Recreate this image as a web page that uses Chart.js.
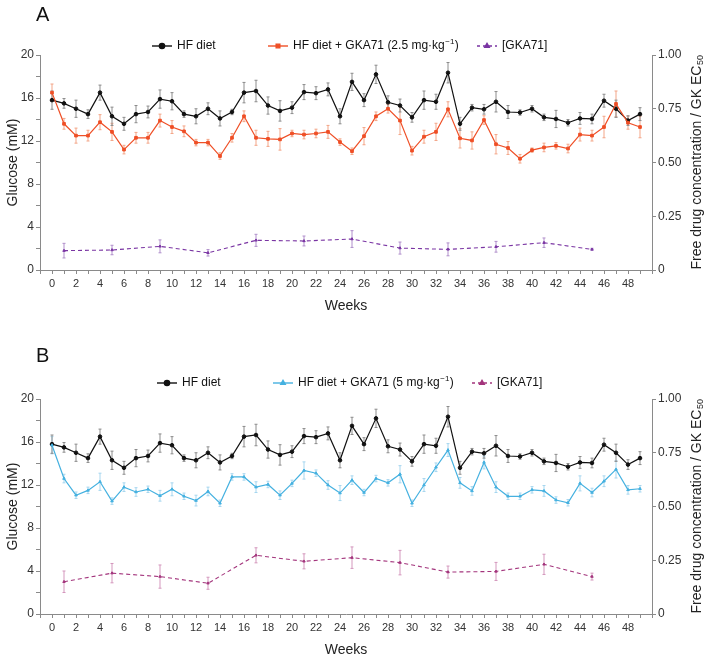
<!DOCTYPE html>
<html>
<head>
<meta charset="utf-8">
<script src="https://cdn.jsdelivr.net/npm/chart.js@4.4.1/dist/chart.umd.min.js"></script>
<style>
body { margin: 0; background: #fff; width: 709px; height: 658px; overflow: hidden; position: relative; }
canvas { position: absolute; left: 0; }
</style>
</head>
<body>
<canvas id="chartA" width="709" height="329" style="top:0"></canvas>
<canvas id="chartB" width="709" height="329" style="top:329px"></canvas>
<script>
// Weeks of the study
const weeks = [0, 1, 2, 3, 4, 5, 6, 7, 8, 9, 10, 11, 12, 13, 14, 15, 16, 17, 18, 19,
  20, 21, 22, 23, 24, 25, 26, 27, 28, 29, 30, 31, 32, 33, 34, 35, 36, 37, 38, 39,
  40, 41, 42, 43, 44, 45, 46, 47, 48, 49];
const drugWeeks = [1, 5, 9, 13, 17, 21, 25, 29, 33, 37, 41, 45];

// Glucose (mM), HF diet controls (same in both panels)
const hfDiet = [15.8, 15.5, 15.0, 14.5, 16.5, 14.3, 13.6, 14.5, 14.7, 15.9,
  15.7, 14.5, 14.3, 15.0, 14.1, 14.7, 16.5, 16.65, 15.3, 14.8,
  15.1, 16.55, 16.45, 16.8, 14.3, 17.5, 15.8, 18.2, 15.6, 15.3,
  14.2, 15.8, 15.65, 18.35, 13.6, 15.1, 14.95, 15.65, 14.7, 14.65,
  15.0, 14.2, 14.05, 13.7, 14.1, 14.05, 15.75, 15.0, 13.9, 14.5];
const hfDietErr = [0.85, 0.45, 0.8, 0.4, 0.7, 0.85, 0.6, 0.8, 0.55, 0.85,
  0.8, 0.3, 0.7, 0.55, 0.7, 0.25, 0.95, 1.0, 0.8, 0.95,
  0.55, 0.7, 0.6, 0.6, 0.7, 0.8, 0.6, 0.85, 0.6, 0.6,
  0.45, 0.85, 0.7, 0.95, 0.6, 0.3, 0.45, 0.95, 0.6, 0.25,
  0.3, 0.3, 0.8, 0.3, 0.55, 0.45, 0.6, 0.8, 0.45, 0.6];

// Panel A: HF diet + GKA71 2.5 mg/kg
const gka25 = [16.5, 13.6, 12.5, 12.5, 13.75, 12.85, 11.2, 12.3, 12.3, 13.9,
  13.3, 12.9, 11.85, 11.85, 10.6, 12.3, 14.3, 12.3, 12.2, 12.15,
  12.7, 12.6, 12.7, 12.85, 11.9, 11.05, 12.45, 14.3, 15.0, 13.9,
  11.1, 12.4, 12.85, 14.95, 12.25, 12.05, 13.95, 11.7, 11.35, 10.35,
  11.15, 11.4, 11.55, 11.3, 12.6, 12.5, 13.3, 15.45, 13.7, 13.3];
const gka25Err = [0.8, 0.5, 0.7, 0.5, 0.7, 0.8, 0.4, 0.5, 0.5, 0.6,
  0.6, 0.5, 0.3, 0.3, 0.3, 0.4, 0.5, 0.7, 0.7, 1.0,
  0.3, 0.4, 0.4, 0.6, 0.3, 0.3, 0.8, 0.4, 0.4, 1.3,
  0.4, 0.6, 0.8, 0.7, 0.9, 0.8, 0.4, 0.9, 0.6, 0.4,
  0.2, 0.4, 0.3, 0.4, 0.6, 0.5, 1.0, 1.2, 0.6, 1.0];
const drug25 = [0.09, 0.093, 0.11, 0.08, 0.138, 0.135, 0.144, 0.102, 0.096, 0.108, 0.127, 0.096];
const drug25Err = [0.034, 0.022, 0.03, 0.015, 0.028, 0.023, 0.039, 0.028, 0.03, 0.025, 0.022, 0.005];

// Panel B: HF diet + GKA71 5 mg/kg
const gka5 = [15.7, 12.6, 11.05, 11.5, 12.3, 10.5, 11.8, 11.35, 11.6, 11.0,
  11.6, 10.95, 10.55, 11.4, 10.3, 12.75, 12.75, 11.8, 12.05, 11.05,
  12.15, 13.35, 13.1, 12.0, 11.25, 12.45, 11.3, 12.6, 12.2, 13.0,
  10.3, 12.0, 13.65, 15.25, 12.2, 11.45, 14.1, 11.8, 10.95, 10.95,
  11.55, 11.45, 10.6, 10.35, 12.15, 11.3, 12.35, 13.45, 11.55, 11.65];
const gka5Err = [0.8, 0.4, 0.3, 0.3, 0.8, 0.3, 0.4, 0.4, 0.3, 0.5,
  0.6, 0.3, 0.5, 0.4, 0.3, 0.3, 0.3, 0.5, 0.3, 0.4,
  0.3, 0.8, 0.3, 0.4, 0.7, 0.4, 0.3, 0.3, 0.3, 0.8,
  0.3, 0.6, 0.4, 0.6, 0.5, 0.4, 0.6, 0.5, 0.3, 0.3,
  0.3, 0.5, 0.3, 0.3, 0.7, 0.4, 0.5, 0.8, 0.4, 0.3];
const drug5 = [0.15, 0.19, 0.174, 0.143, 0.273, 0.245, 0.262, 0.239, 0.195, 0.198, 0.231, 0.174];
const drug5Err = [0.05, 0.045, 0.054, 0.028, 0.035, 0.035, 0.05, 0.057, 0.028, 0.042, 0.047, 0.016];

const FONT = '"Liberation Sans", Arial, sans-serif';
Chart.defaults.font.family = FONT;
Chart.defaults.font.size = 11;
Chart.defaults.color = '#333';

function pts(xs, ys) {
  return xs.map((x, i) => ({ x: x, y: ys[i] }));
}

// error bars, panel letter, legend and axis titles
const decoPlugin = {
  id: 'deco',
  beforeDatasetsDraw(chart) {
    const ctx = chart.ctx;
    chart.data.datasets.forEach((ds, di) => {
      if (!ds.errors) return;
      const meta = chart.getDatasetMeta(di);
      const ys = chart.scales[ds.yAxisID];
      ctx.save();
      ctx.strokeStyle = ds.errColor;
      ctx.lineWidth = 1;
      meta.data.forEach((p, i) => {
        const e = ds.errors[i];
        if (!e) return;
        const v = ds.data[i].y;
        const y1 = ys.getPixelForValue(v - e), y2 = ys.getPixelForValue(v + e);
        ctx.beginPath();
        ctx.moveTo(p.x, y1); ctx.lineTo(p.x, y2);
        ctx.moveTo(p.x - 1.5, y1); ctx.lineTo(p.x + 1.5, y1);
        ctx.moveTo(p.x - 1.5, y2); ctx.lineTo(p.x + 1.5, y2);
        ctx.stroke();
      });
      ctx.restore();
    });
  },
  afterDraw(chart, args, opts) {
    const ctx = chart.ctx;
    const a = chart.chartArea;
    ctx.save();
    ctx.fillStyle = '#111';
    ctx.textBaseline = 'middle';
    // panel letter
    ctx.font = '20px ' + FONT;
    ctx.fillText(opts.letter, 36, opts.letterY);

    // legend
    opts.legend.forEach(it => {
      const y = opts.legendY;
      ctx.strokeStyle = it.color;
      ctx.fillStyle = it.color;
      ctx.lineWidth = 1.4;
      ctx.setLineDash(it.dash || []);
      ctx.beginPath();
      ctx.moveTo(it.x, y); ctx.lineTo(it.x + 20, y);
      ctx.stroke();
      ctx.setLineDash([]);
      Chart.helpers.drawPoint(ctx, { pointStyle: it.marker, radius: 2.6, rotation: 0, borderWidth: 1 }, it.x + 10, y);
      ctx.fillStyle = '#111';
      ctx.font = '12px ' + FONT;
      let tx = it.x + 25;
      ctx.fillText(it.text, tx, y);
      if (it.sup) {
        tx += ctx.measureText(it.text).width;
        ctx.font = '8px ' + FONT;
        ctx.fillText(it.sup, tx + 0.5, y - 4);
        tx += ctx.measureText(it.sup).width + 1;
        ctx.font = '12px ' + FONT;
        ctx.fillText(it.tail, tx, y);
      }
    });

    // axis titles
    ctx.font = '14px ' + FONT;
    ctx.textAlign = 'center';
    ctx.fillStyle = '#222';
    ctx.fillText('Weeks', (a.left + a.right) / 2, a.bottom + 36);
    const cy = (a.top + a.bottom) / 2;
    ctx.save();
    ctx.translate(13, cy);
    ctx.rotate(-Math.PI / 2);
    ctx.fillText('Glucose (mM)', 0, 0);
    ctx.restore();

    ctx.save();
    ctx.translate(697, cy);
    ctx.rotate(-Math.PI / 2);
    ctx.textAlign = 'left';
    const main = 'Free drug concentration / GK EC';
    ctx.font = '14px ' + FONT;
    const w1 = ctx.measureText(main).width;
    ctx.font = '9px ' + FONT;
    const w2 = ctx.measureText('50').width;
    const sx = -(w1 + w2) / 2;
    ctx.font = '14px ' + FONT;
    ctx.fillText(main, sx, 0);
    ctx.font = '9px ' + FONT;
    ctx.fillText('50', sx + w1 + 0.5, 4);
    ctx.restore();
    ctx.restore();
  }
};

function makeChart(id, treated, treatedErr, treatedColor, treatedErrColor, treatedMarker,
                   drug, drugErr, drugColor, drugErrColor, deco) {
  const axisColor = '#8a8a8a';
  return new Chart(document.getElementById(id), {
    type: 'line',
    data: {
      datasets: [
        {
          label: 'drug', data: pts(drugWeeks, drug), yAxisID: 'y2',
          borderColor: drugColor, backgroundColor: drugColor, borderWidth: 1.1,
          borderDash: [4, 3], pointStyle: 'triangle', pointRadius: 1.4, pointBorderWidth: 1,
          errors: drugErr, errColor: drugErrColor
        },
        {
          label: 'treated', data: pts(weeks, treated), yAxisID: 'y',
          borderColor: treatedColor, backgroundColor: treatedColor, borderWidth: 1.2,
          pointStyle: treatedMarker, pointRadius: treatedMarker === 'rect' ? 1.9 : 1.5, pointBorderWidth: 1,
          errors: treatedErr, errColor: treatedErrColor
        },
        {
          label: 'HF diet', data: pts(weeks, hfDiet), yAxisID: 'y',
          borderColor: '#111', backgroundColor: '#111', borderWidth: 1.2,
          pointStyle: 'circle', pointRadius: 1.8, pointBorderWidth: 1,
          errors: hfDietErr, errColor: '#8c8c8c'
        }
      ]
    },
    options: {
      responsive: false,
      animation: false,
      layout: { padding: { top: deco.top, left: 0, right: 0, bottom: 0 } },
      plugins: { legend: { display: false }, tooltip: { enabled: false }, deco: deco },
      scales: {
        x: {
          type: 'linear', min: -1, max: 50,
          afterFit: s => { s.height = deco.xHeight; },
          ticks: {
            stepSize: 1, autoSkip: false, maxRotation: 0, padding: 3,
            callback: v => (v >= 0 && v <= 48 && v % 2 === 0) ? v : ''
          },
          grid: { drawOnChartArea: false, tickLength: 4, color: axisColor },
          border: { color: axisColor }
        },
        y: {
          position: 'left', min: 0, max: 20,
          afterFit: s => { s.width = 40; },
          ticks: { stepSize: 2, padding: 2, font: { size: 12 }, callback: v => v % 4 === 0 ? v : '' },
          grid: { drawOnChartArea: false, tickLength: 4, color: axisColor },
          border: { color: axisColor }
        },
        y2: {
          position: 'right', min: 0, max: 1,
          afterFit: s => { s.width = 57; },
          ticks: { stepSize: 0.25, padding: 2, font: { size: 12 }, callback: v => v === 0 ? '0' : v.toFixed(2) },
          grid: { drawOnChartArea: false, tickLength: 4, color: axisColor },
          border: { color: axisColor }
        }
      }
    },
    plugins: [decoPlugin]
  });
}

makeChart('chartA', gka25, gka25Err, '#ef4f26', '#f3a587', 'rect',
  drug25, drug25Err, '#7a35a3', '#b08fcb', {
    top: 55, xHeight: 59, letter: 'A', letterY: 15, legendY: 46,
    legend: [
      { x: 152, color: '#111', marker: 'circle', text: 'HF diet' },
      { x: 268, color: '#ef4f26', marker: 'rect', text: 'HF diet + GKA71 (2.5 mg\u00b7kg', sup: '\u22121', tail: ')' },
      { x: 477, color: '#7a35a3', marker: 'triangle', dash: [3, 3], text: '[GKA71]' }
    ]
  });

makeChart('chartB', gka5, gka5Err, '#45b1e0', '#a6d6ef', 'triangle',
  drug5, drug5Err, '#a3347c', '#d497bd', {
    top: 70, xHeight: 44, letter: 'B', letterY: 27, legendY: 54,
    legend: [
      { x: 157, color: '#111', marker: 'circle', text: 'HF diet' },
      { x: 273, color: '#45b1e0', marker: 'triangle', text: 'HF diet + GKA71 (5 mg\u00b7kg', sup: '\u22121', tail: ')' },
      { x: 472, color: '#a3347c', marker: 'triangle', dash: [3, 3], text: '[GKA71]' }
    ]
  });
</script>
</body>
</html>
